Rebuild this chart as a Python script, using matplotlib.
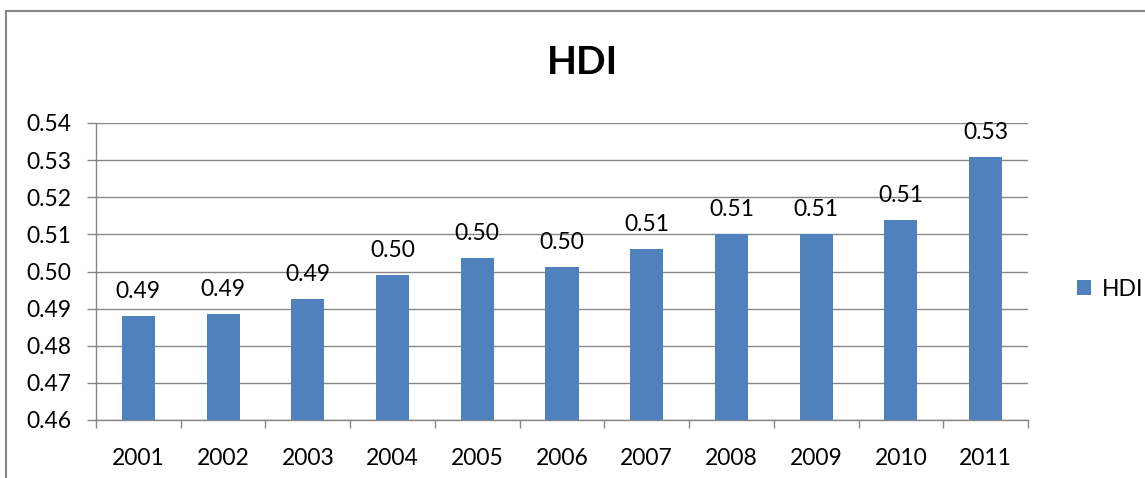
import matplotlib.pyplot as plt
import numpy as np
from matplotlib.lines import Line2D

years = ['2001', '2002', '2003', '2004', '2005', '2006',
         '2007', '2008', '2009', '2010', '2011']
hdi = [0.4881, 0.4886, 0.4926, 0.4991, 0.5037, 0.5012,
       0.5061, 0.5101, 0.5101, 0.5139, 0.5309]
y_ticks = [0.46, 0.47, 0.48, 0.49, 0.50, 0.51, 0.52, 0.53, 0.54]

plt.rcParams['font.family'] = ['Lato', 'DejaVu Sans']
bar_color = '#4F81BD'
grid_color = '#868686'

fig = plt.figure(figsize=(11.45, 4.78), dpi=100)
ax = fig.add_axes([96 / 1145, 58 / 478, (1028 - 96) / 1145, (420 - 123) / 478])

x = np.arange(len(years))
bars = ax.bar(x, hdi, width=0.39, color=bar_color, zorder=3, label='HDI')

for xi, v in zip(x, hdi):
    ax.annotate(f'{v:.2f}', (xi, v), xytext=(0, 10), textcoords='offset points',
                ha='center', va='bottom', fontsize=16.5, color='black')

ax.set_ylim(0.46, 0.54)
ax.set_xlim(-0.5, len(years) - 0.5)
ax.set_yticks(y_ticks)
ax.set_yticklabels([f'{t:.2f}' for t in y_ticks])
ax.set_xticks(x)
ax.set_xticklabels(years)
ax.set_xticks(np.arange(-0.5, len(years)), minor=True)

ax.tick_params(axis='y', length=6.5, width=1, color=grid_color, pad=11, labelsize=16.5)
ax.tick_params(axis='x', which='major', length=0, pad=20, labelsize=16.5)
ax.tick_params(axis='x', which='minor', length=6, width=1, color=grid_color)

ax.grid(axis='y', color=grid_color, linewidth=1, zorder=0)
for s in ['top', 'right']:
    ax.spines[s].set_visible(False)
for s in ['left', 'bottom']:
    ax.spines[s].set_color(grid_color)
    ax.spines[s].set_linewidth(1)

fig.text(582 / 1145, 1 - 63 / 478, 'HDI', ha='center', va='center',
         fontsize=28, fontweight='bold')

ax.legend(loc='center left', bbox_to_anchor=(1.03, 0.44), frameon=False,
          fontsize=16.5, handlelength=0.65, handleheight=0.65, handletextpad=0.45)

# outer chart frame (partially cropped)
fig.add_artist(Line2D([6 / 1145, 6 / 1145], [0, 1 - 11 / 478],
                      transform=fig.transFigure, color=grid_color, linewidth=1.5))
fig.add_artist(Line2D([6 / 1145, 1], [1 - 11 / 478, 1 - 11 / 478],
                      transform=fig.transFigure, color=grid_color, linewidth=1.5))

fig.savefig('out.png', dpi=100)
